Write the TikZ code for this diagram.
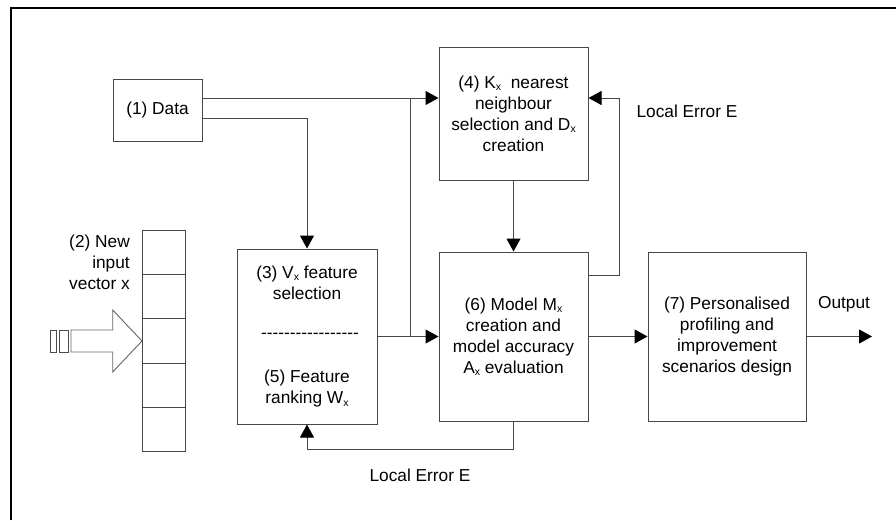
\documentclass[tikz,border=0pt]{standalone}
\usepackage{fontspec}
\setmainfont{Liberation Sans}
\usetikzlibrary{arrows.meta}
\newcommand{\subx}{\raisebox{-0.12em}{\fontsize{10.5}{10}\selectfont x}}
\newcommand{\hy}{-\kern0pt}
\begin{document}
\begin{tikzpicture}[x=1pt,y=-1pt,
  every node/.style={font=\fontsize{17.3}{21}\selectfont, inner sep=0pt},
  box/.style={draw=black!72, line width=1pt, rectangle, align=center},
  ln/.style={draw=black!72, line width=1pt},
  arr/.style={ln, -{Triangle[length=13pt,width=14pt,color=black]}},
  lbl/.style={align=center}]
\useasboundingbox (0,0) rectangle (896,520);
\fill[white] (0,0) rectangle (896,520);
% frame
\draw[line width=2pt] (11,520) -- (11,8) -- (896,8);
% boxes
\node[box, minimum width=89pt, minimum height=62pt] (data) at (157.5,110) {(1) Data};
\node[box, minimum width=149pt, minimum height=133pt] (b4) at (513.5,113.5)
  {(4) K\subx\ \ nearest\\neighbour\\selection and D\subx\\creation};
\node[box, minimum width=140pt, minimum height=175pt] (b3) at (307,336.5) {};
\node[lbl] (t3) at (307,283) {(3) V\subx\ feature\\selection};
\node[lbl] (dash) at (310,336) {\hy\hy\hy\hy\hy\hy\hy\hy\hy\hy\hy\hy\hy\hy\hy\hy\hy};
\node[lbl] (t5) at (307,389) {(5) Feature\\ranking W\subx};
\node[box, minimum width=149pt, minimum height=169pt] (b6) at (513.5,336.5)
  {(6) Model M\subx\\creation and\\model accuracy\\A\subx\ evaluation};
\node[box, minimum width=158pt, minimum height=169pt] (b7) at (727,336.5)
  {(7) Personalised\\profiling and\\improvement\\scenarios design};
% input vector
\foreach \i in {0,...,4} {
  \node[box, minimum width=43pt, minimum height=44.1pt] (v\i) at (163.5,{252.75+44.1*\i}) {};
}
\node[lbl, anchor=east, align=right] (t2) at (130,262) {(2) New\\input\\vector x};
\draw[black!60, line width=0.9pt, fill=white] (71,330) -- (112.7,330) -- (112.7,310) -- (142,341)
  -- (112.7,372) -- (112.7,352) -- (71,352) -- cycle;
\draw[black!70, line width=1pt] (50.7,330) rectangle (56.7,352);
\draw[black!70, line width=1pt] (59.3,330) rectangle (68.3,352);
% coordinates
\coordinate (r98) at (0,98);
\coordinate (r118) at (0,118);
\coordinate (j1) at (410,98);
\coordinate (j2) at (410,336.5);
\coordinate (fb1) at (619,275);
\coordinate (fb2) at (619,98);
\coordinate (bb) at (513.5,449);
\coordinate (out) at (872,336.5);
% connectors
\draw[arr] (data.east |- r98) -- (b4.west |- r98);
\draw[arr] (data.east |- r118) -| (b3.north);
\draw[ln] (j1) -- (j2);
\draw[arr] (b3.east) -- (b6.west);
\draw[arr] (b4.south) -- (b6.north);
\draw[arr] (b6.east) -- (b7.west);
\draw[arr] (b7.east) -- (out);
\draw[arr] (b6.east |- fb1) -- (fb1) -- (fb2) -- (b4.east |- fb2);
\draw[arr] (b6.south) -- (bb) -| (b3.south);
% labels
\node[lbl] (le1) at (687,111) {Local Error E};
\node[lbl] (le2) at (420,475) {Local Error E};
\node[lbl] (outl) at (844,304) {Output};
\end{tikzpicture}
\end{document}
